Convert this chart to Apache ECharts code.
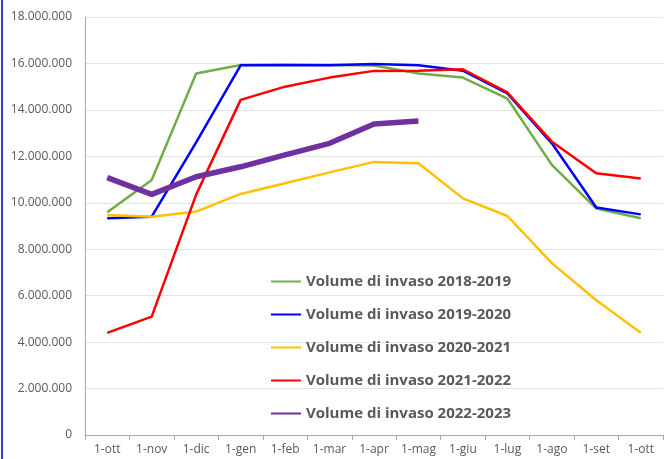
<!DOCTYPE html>
<html><head><meta charset="utf-8">
<script src="https://cdn.jsdelivr.net/npm/echarts@6/dist/echarts.min.js"></script>
<style>html,body{margin:0;padding:0;background:#fff}#c{width:667px;height:459px;position:relative}#b{position:absolute;left:1px;top:0;width:2px;height:459px;background:#3a3ad0}</style>
</head><body><div id="c"></div><div id="b"></div>
<script>
const categories = ['1-ott','1-nov','1-dic','1-gen','1-feb','1-mar','1-apr','1-mag','1-giu','1-lug','1-ago','1-set','1-ott'];
const v2018 = [9590000,10980000,15570000,15930000,15950000,15930000,15910000,15570000,15390000,14490000,11630000,9750000,9330000];
const v2019 = [9330000,9400000,12600000,15920000,15920000,15920000,15980000,15920000,15690000,14710000,12560000,9800000,9500000];
const v2020 = [9470000,9400000,9620000,10380000,10840000,11310000,11760000,11700000,10190000,9430000,7400000,5800000,4400000];
const v2021 = [4400000,5100000,10350000,14430000,15000000,15390000,15680000,15690000,15750000,14750000,12630000,11270000,11050000];
const v2022 = [11080000,10360000,11120000,11550000,12060000,12560000,13390000,13520000];
const names = ['Volume di invaso 2018-2019','Volume di invaso 2019-2020','Volume di invaso 2020-2021','Volume di invaso 2021-2022','Volume di invaso 2022-2023'];

function fmt(v){return String(v).replace(/\B(?=(\d{3})+(?!\d))/g,'.');}
const chart = echarts.init(document.getElementById('c'));
function s(name,data,color,w){return {name:name,type:'line',data:data,symbol:'none',lineStyle:{color:color,width:w},itemStyle:{color:color},animation:false};}
chart.setOption({
  animation:false,
  grid:{left:85,right:4,top:17,bottom:24},
  legend:{orient:'vertical',left:265,top:269,itemGap:18,itemWidth:30,itemHeight:10,
    itemStyle:{opacity:0,borderWidth:0},
    textStyle:{color:'#595959',fontSize:15,fontWeight:'bold',fontFamily:'Open Sans'},
    data:names},
  xAxis:{type:'category',data:categories,boundaryGap:true,
    axisLine:{lineStyle:{color:'#8faadc',width:1}},
    axisTick:{show:true,length:5,lineStyle:{color:'#8faadc'}},
    axisLabel:{color:'#595959',fontSize:12,fontFamily:'Open Sans',margin:9,interval:0}},
  yAxis:{type:'value',min:0,max:18000000,interval:2000000,
    axisLine:{show:true,lineStyle:{color:'#8faadc'}},
    splitLine:{lineStyle:{color:'#e3e3e3',width:1}},
    axisLabel:{color:'#595959',fontSize:12,fontFamily:'Open Sans',margin:13,formatter:fmt}},
  series:[s(names[0],v2018,'#70ad47',2.5),s(names[1],v2019,'#0000ff',2.5),s(names[2],v2020,'#ffc000',2.5),s(names[3],v2021,'#ff0000',2.5),s(names[4],v2022,'#7030a0',5.5)]
});
</script></body></html>
